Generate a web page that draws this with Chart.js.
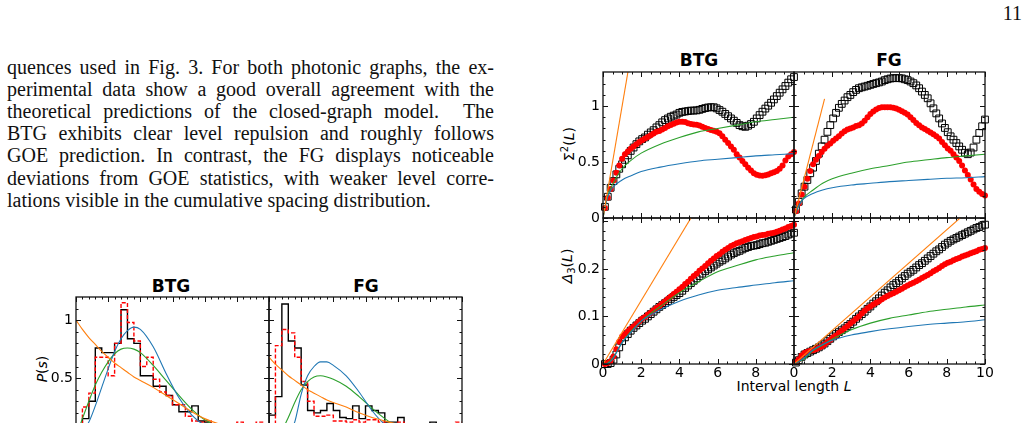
<!DOCTYPE html>
<html>
<head>
<meta charset="utf-8">
<script src="https://cdn.jsdelivr.net/npm/chart.js@4.4.1/dist/chart.umd.min.js"></script>
<style>
  html, body { margin: 0; padding: 0; background: #fff; width: 1027px; height: 423px; overflow: hidden; position: relative; }
  canvas { position: absolute; }
  .para { position: absolute; left: 7px; top: 55.5px; width: 487px; font-family: "Liberation Serif", serif; font-size: 20px; line-height: 22.2px; color: #111; }
  .para div { text-align: justify; text-align-last: justify; }
  .para div.last { text-align-last: left; }
  .pageno { position: absolute; right: 5px; top: 2px; font-family: "Liberation Serif", serif; font-size: 20px; color: #111; }
  .lbl { position: absolute; font-family: "DejaVu Sans", sans-serif; color: #000; white-space: nowrap; transform: translate(-50%, -50%); }
  .ttl { font-weight: bold; font-size: 17px; }
  .ax { font-size: 14px; }
  .rot { transform: translate(-50%, -50%) rotate(-90deg); }
</style>
</head>
<body>

<div class="pageno">11</div>
<div class="para">
  <div>quences used in Fig. 3. For both photonic graphs, the ex-</div>
  <div>perimental data show a good overall agreement with the</div>
  <div>theoretical predictions of the closed-graph model. &nbsp;The</div>
  <div>BTG exhibits clear level repulsion and roughly follows</div>
  <div>GOE prediction. In contrast, the FG displays noticeable</div>
  <div>deviations from GOE statistics, with weaker level corre-</div>
  <div class="last">lations visible in the cumulative spacing distribution.</div>
</div>

<div class="lbl ttl" style="left:171px;top:286px">BTG</div>
<div class="lbl ttl" style="left:366px;top:286px">FG</div>
<div class="lbl ax rot" style="left:42px;top:369px"><i>P</i>(<i>s</i>)</div>

<div class="lbl ttl" style="left:699px;top:60px">BTG</div>
<div class="lbl ttl" style="left:889px;top:60px">FG</div>
<div class="lbl ax rot" style="left:568px;top:144px">Σ<sup style="font-size:10px">2</sup>(<i>L</i>)</div>
<div class="lbl ax rot" style="left:568px;top:266px"><i>Δ</i><sub style="font-size:10px">3</sub>(<i>L</i>)</div>
<div class="lbl ax" style="left:794px;top:386px">Interval length <i>L</i></div>

<script>
// ---- interval lengths of the measured curves ----
const L = [0.1,0.25,0.4,0.55,0.7,0.85,1,1.15,1.3,1.45,1.6,1.75,1.9,2.05,2.2,2.35,2.5,2.65,2.8,2.95,3.1,3.25,3.4,3.55,3.7,3.85,4,4.15,4.3,4.45,4.6,4.75,4.9,5.05,5.2,5.35,5.5,5.65,5.8,5.95,6.1,6.25,6.4,6.55,6.7,6.85,7,7.15,7.3,7.45,7.6,7.75,7.9,8.05,8.2,8.35,8.5,8.65,8.8,8.95,9.1,9.25,9.4,9.55,9.7,9.85,10];

// number variance, BTG
const btgSigmaSquares = [0.10,0.19,0.27,0.33,0.39,0.44,0.48,0.52,0.56,0.60,0.63,0.66,0.685,0.705,0.72,0.745,0.765,0.785,0.81,0.83,0.855,0.875,0.89,0.905,0.915,0.925,0.94,0.948,0.952,0.956,0.96,0.96,0.962,0.967,0.975,0.982,0.988,0.99,0.99,0.98,0.965,0.95,0.93,0.91,0.89,0.87,0.85,0.83,0.82,0.815,0.825,0.84,0.86,0.89,0.92,0.95,0.978,1.004,1.03,1.06,1.09,1.12,1.15,1.18,1.21,1.24,1.26];
const btgSigmaDots = [0.09,0.18,0.26,0.335,0.405,0.47,0.53,0.57,0.595,0.62,0.64,0.66,0.68,0.695,0.71,0.725,0.74,0.755,0.77,0.778,0.79,0.805,0.82,0.832,0.843,0.853,0.86,0.86,0.857,0.848,0.84,0.836,0.833,0.827,0.815,0.804,0.795,0.787,0.78,0.772,0.757,0.73,0.70,0.67,0.64,0.61,0.57,0.54,0.51,0.48,0.45,0.424,0.40,0.387,0.38,0.378,0.382,0.388,0.40,0.41,0.42,0.44,0.47,0.515,0.55,0.57,0.59];
// number variance, FG
const fgSigmaSquares = [0.075,0.145,0.22,0.28,0.34,0.40,0.45,0.51,0.575,0.64,0.70,0.77,0.83,0.89,0.94,0.985,1.02,1.05,1.08,1.10,1.125,1.145,1.16,1.168,1.175,1.182,1.19,1.198,1.205,1.212,1.22,1.232,1.24,1.247,1.25,1.25,1.25,1.248,1.24,1.232,1.22,1.205,1.185,1.16,1.13,1.10,1.07,1.025,0.98,0.935,0.89,0.845,0.805,0.767,0.73,0.70,0.67,0.64,0.61,0.583,0.57,0.585,0.63,0.70,0.76,0.82,0.88];
const fgSigmaDots = [0.06,0.13,0.21,0.28,0.35,0.42,0.48,0.52,0.555,0.59,0.62,0.645,0.665,0.69,0.71,0.73,0.755,0.775,0.79,0.80,0.81,0.823,0.83,0.845,0.87,0.90,0.93,0.953,0.97,0.983,0.99,0.99,0.99,0.99,0.985,0.978,0.968,0.955,0.94,0.925,0.90,0.875,0.85,0.828,0.81,0.795,0.78,0.765,0.748,0.73,0.71,0.68,0.65,0.622,0.60,0.57,0.54,0.51,0.47,0.425,0.385,0.345,0.30,0.26,0.235,0.215,0.20];
// spectral rigidity, BTG
const btgDeltaSquares = [0,0,0.002,0.009,0.02,0.035,0.048,0.056,0.063,0.07,0.076,0.081,0.086,0.091,0.095,0.1,0.105,0.11,0.115,0.12,0.124,0.128,0.132,0.137,0.141,0.145,0.149,0.154,0.16,0.165,0.17,0.175,0.18,0.185,0.19,0.195,0.199,0.203,0.207,0.211,0.215,0.218,0.222,0.226,0.23,0.233,0.236,0.238,0.241,0.244,0.246,0.248,0.249,0.25,0.252,0.254,0.255,0.257,0.259,0.261,0.263,0.265,0.267,0.269,0.272,0.274,0.276];
const btgDeltaDots = [0,0.002,0.006,0.016,0.031,0.047,0.058,0.063,0.069,0.074,0.079,0.084,0.09,0.095,0.099,0.104,0.108,0.113,0.118,0.122,0.127,0.132,0.137,0.142,0.147,0.152,0.157,0.162,0.168,0.173,0.179,0.185,0.19,0.196,0.201,0.206,0.212,0.217,0.222,0.227,0.231,0.236,0.24,0.244,0.248,0.251,0.254,0.256,0.258,0.261,0.263,0.265,0.267,0.268,0.27,0.271,0.272,0.274,0.275,0.276,0.278,0.28,0.283,0.285,0.288,0.29,0.293];
// spectral rigidity, FG
const fgDeltaSquares = [0.003,0.008,0.015,0.02,0.023,0.026,0.029,0.032,0.035,0.039,0.043,0.048,0.053,0.058,0.063,0.067,0.071,0.075,0.08,0.084,0.089,0.095,0.1,0.105,0.11,0.116,0.121,0.127,0.132,0.138,0.144,0.15,0.155,0.161,0.166,0.17,0.175,0.18,0.185,0.19,0.194,0.198,0.203,0.208,0.212,0.217,0.222,0.227,0.232,0.237,0.241,0.246,0.251,0.255,0.259,0.262,0.265,0.268,0.271,0.274,0.277,0.28,0.283,0.286,0.288,0.291,0.293];
const fgDeltaDots = [0.004,0.01,0.018,0.023,0.026,0.028,0.029,0.031,0.034,0.037,0.041,0.046,0.051,0.056,0.06,0.065,0.07,0.075,0.08,0.085,0.09,0.095,0.1,0.106,0.112,0.117,0.121,0.125,0.129,0.132,0.136,0.14,0.143,0.146,0.149,0.152,0.155,0.158,0.162,0.165,0.168,0.171,0.174,0.177,0.181,0.184,0.187,0.191,0.195,0.198,0.202,0.206,0.21,0.213,0.215,0.218,0.221,0.223,0.226,0.228,0.23,0.233,0.235,0.237,0.24,0.242,0.244];

// ---- reference curves ----
const Lth = [0,0.1,0.25,0.5,1,1.5,2,3,4,5,6,7,8,9,10];
const btgSigmaGOE = [0,0.09,0.2,0.3,0.44,0.52,0.58,0.66,0.72,0.77,0.80,0.83,0.86,0.88,0.90];
const btgSigmaGUE = [0,0.09,0.19,0.27,0.34,0.38,0.415,0.455,0.485,0.51,0.525,0.54,0.555,0.565,0.575];
const fgSigmaGOE = [0,0.05,0.11,0.18,0.25,0.31,0.35,0.40,0.44,0.47,0.50,0.52,0.54,0.555,0.57];
const fgSigmaGUE = [0,0.05,0.11,0.17,0.22,0.25,0.27,0.295,0.31,0.325,0.335,0.345,0.355,0.36,0.37];
const btgDeltaGOE = [0,0,0.002,0.012,0.045,0.07,0.09,0.121,0.15,0.173,0.194,0.207,0.219,0.227,0.234];
const btgDeltaGUE = [0,0,0.001,0.01,0.045,0.068,0.09,0.114,0.132,0.145,0.155,0.161,0.166,0.171,0.175];
const fgDeltaGOE = [0,0.002,0.005,0.01,0.028,0.04,0.052,0.072,0.086,0.096,0.103,0.11,0.115,0.12,0.124];
const fgDeltaGUE = [0,0.002,0.005,0.012,0.03,0.041,0.05,0.061,0.068,0.074,0.079,0.083,0.086,0.089,0.093];
// Poisson straight lines (end points)
const Lpois = [0,1.6];
const btgSigmaPois = [0,1.6];
const fgSigmaPois = [0,1.064];
const LpoisD = [0,10];
const btgDeltaPois = [0,0.667];
const fgDeltaPois = [0,0.353];

// ---- spacing histograms ----
const sEdges = [0,0.1,0.2,0.3,0.4,0.5,0.6,0.7,0.8,0.9,1,1.1,1.2,1.3,1.4,1.5,1.6,1.7,1.8,1.9,2,2.1,2.2,2.3,2.4,2.5,2.6,2.7,2.8,2.9,3];
const btgHistSolid = [0.05,0.15,0.30,0.76,0.72,0.72,0.80,1.09,0.84,0.80,0.52,0.52,0.43,0.43,0.35,0.27,0.21,0.21,0.26,0.13,0.12,0.08,0.05,0.03,0.10,0.02,0.02,0.01,0.01,0.0];
const btgHistDashed = [0.0,0.25,0.37,0.68,0.68,0.52,0.80,1.15,0.98,0.82,0.60,0.68,0.49,0.38,0.35,0.27,0.27,0.17,0.13,0.12,0.13,0.06,0.04,0.03,0.02,0.12,0.03,0.02,0.12,0.02];
const fgHistSolid = [0.18,0.34,1.14,0.82,0.76,0.44,0.22,0.20,0.22,0.28,0.22,0.16,0.15,0.26,0.15,0.26,0.22,0.20,0.12,0.12,0.16,0.04,0.02,0.02,0.02,0.12,0.02,0.01,0.01,0.0];
const fgHistDashed = [0.05,0.78,0.92,0.89,0.68,0.47,0.30,0.17,0.17,0.18,0.13,0.13,0.12,0.14,0.12,0.14,0.14,0.12,0.08,0.08,0.12,0.03,0.02,0.02,0.02,0.02,0.02,0.01,0.01,0.12];
const sTh = [0,0.1,0.2,0.3,0.4,0.5,0.6,0.7,0.8,0.9,1,1.2,1.4,1.6,1.8,2,2.25,2.5,2.75,3];
const btgPGUE = [0,0.03,0.12,0.26,0.42,0.58,0.73,0.84,0.91,0.94,0.92,0.77,0.54,0.33,0.18,0.09,0.03,0.01,0,0];
const btgPGOE = [0,0.15,0.30,0.44,0.55,0.64,0.71,0.75,0.76,0.75,0.72,0.61,0.48,0.35,0.23,0.14,0.07,0.03,0.01,0];
const btgPPois = [1,0.92,0.85,0.79,0.73,0.68,0.63,0.59,0.55,0.51,0.48,0.42,0.35,0.28,0.21,0.15,0.10,0.07,0.05,0.03];
const fgPGUE = [0,0,0,0.02,0.12,0.36,0.52,0.60,0.64,0.64,0.61,0.52,0.38,0.22,0.10,0.04,0.01,0,0,0];
const fgPGOE = [0,0,0.05,0.16,0.29,0.40,0.47,0.51,0.52,0.51,0.49,0.43,0.34,0.24,0.15,0.08,0.03,0.01,0,0];
const fgPPois = [0.68,0.62,0.57,0.52,0.48,0.44,0.40,0.37,0.34,0.31,0.29,0.25,0.20,0.16,0.13,0.10,0.07,0.05,0.04,0.03];

// ---- axis ticks ----
const LMajor = [0,2,4,6,8,10];
const LMinor = [0.5,1,1.5,2.5,3,3.5,4.5,5,5.5,6.5,7,7.5,8.5,9,9.5];
const sigmaMajor = [0,0.5,1];
const sigmaMinor = [0.1,0.2,0.3,0.4,0.6,0.7,0.8,0.9,1.1,1.2];
const deltaMajor = [0,0.1,0.2,0.3];
const deltaMinor = [0.02,0.04,0.06,0.08,0.12,0.14,0.16,0.18,0.22,0.24,0.26,0.28];
const sMajor = [0,0.5,1,1.5,2,2.5,3];
const sMinor = [0.1,0.2,0.3,0.4,0.6,0.7,0.8,0.9,1.1,1.2,1.3,1.4,1.6,1.7,1.8,1.9,2.1,2.2,2.3,2.4,2.6,2.7,2.8,2.9];
const pMajor = [0,0.5,1];
const pMinor = [0.1,0.2,0.3,0.4,0.6,0.7,0.8,0.9,1.1];

const BLUE = '#1f77b4', ORANGE = '#ff7f0e', GREEN = '#2ca02c', RED = '#ff0000';

const pts = (xs, ys) => xs.map((x, i) => ({ x: x, y: ys[i] }));

function histPts(edges, h) {
  let out = [{ x: edges[0], y: 0 }];
  h.forEach((v, i) => out.push({ x: edges[i], y: v }));
  out.push({ x: edges[edges.length - 1], y: h[h.length - 1] });
  return out;
}

// frame on all four sides with inward major/minor ticks
const frameTicks = {
  id: 'frameTicks',
  afterDatasetsDraw(chart, args, o) {
    const ctx = chart.ctx, a = chart.chartArea;
    const xs = chart.scales.x, ys = chart.scales.y;
    ctx.save();
    ctx.strokeStyle = '#111';
    ctx.lineWidth = 1;
    ctx.beginPath();
    const vert = (vals, len) => vals.forEach(v => {
      const px = Math.round(xs.getPixelForValue(v)) + 0.5;
      ctx.moveTo(px, a.bottom); ctx.lineTo(px, a.bottom - len);
      ctx.moveTo(px, a.top); ctx.lineTo(px, a.top + len);
    });
    const horz = (vals, len) => vals.forEach(v => {
      const py = Math.round(ys.getPixelForValue(v)) + 0.5;
      ctx.moveTo(a.left, py); ctx.lineTo(a.left + len, py);
      ctx.moveTo(a.right, py); ctx.lineTo(a.right - len, py);
    });
    vert(o.xMajor || [], 5);
    vert(o.xMinor || [], 2.5);
    horz(o.yMajor || [], 5);
    horz(o.yMinor || [], 2.5);
    ctx.stroke();
    ctx.lineWidth = 1.3;
    ctx.strokeRect(a.left, a.top, a.right - a.left, a.bottom - a.top);
    ctx.restore();
  }
};

function makePanel(box, datasets, opt) {
  const padL = 48, padR = 16, padT = 16, padB = 24;
  const cv = document.createElement('canvas');
  cv.width = box.w + padL + padR;
  cv.height = box.h + padT + padB;
  cv.style.left = (box.x - padL) + 'px';
  cv.style.top = (box.y - padT) + 'px';
  document.body.appendChild(cv);
  const tickFont = { family: 'DejaVu Sans', size: 14 };
  return new Chart(cv, {
    type: 'scatter',
    data: { datasets: datasets },
    options: {
      responsive: false,
      animation: false,
      devicePixelRatio: 1,
      layout: { padding: { left: 0, right: padR, top: padT, bottom: 0 } },
      plugins: {
        legend: { display: false },
        tooltip: { enabled: false },
        frameTicks: { xMajor: opt.xMajor, xMinor: opt.xMinor, yMajor: opt.yMajor, yMinor: opt.yMinor }
      },
      scales: {
        x: {
          type: 'linear', min: opt.xMin, max: opt.xMax,
          grid: { display: false, drawTicks: false }, border: { display: false },
          ticks: { display: !!opt.xLabels, font: tickFont, color: '#000', padding: 1, maxRotation: 0, autoSkip: false, callback: v => String(v) },
          afterBuildTicks: s => { s.ticks = (opt.xLabels || []).map(v => ({ value: v })); },
          afterFit: s => { s.height = padB; }
        },
        y: {
          type: 'linear', min: opt.yMin, max: opt.yMax,
          grid: { display: false, drawTicks: false }, border: { display: false },
          ticks: { display: !!opt.yLabels, font: tickFont, color: '#000', padding: 3, autoSkip: false, callback: v => String(v) },
          afterBuildTicks: s => { s.ticks = (opt.yLabels || []).map(v => ({ value: v })); },
          afterFit: s => { s.width = padL; }
        }
      }
    },
    plugins: [frameTicks]
  });
}

function markerSets(sq, dots, xs) {
  return [
    { data: pts(xs, dots), pointStyle: 'circle', pointRadius: 3, backgroundColor: RED, borderColor: RED, pointBorderWidth: 0, order: 5, clip: 4 },
    { data: pts(xs, sq), pointStyle: 'rect', pointRadius: 4.8, backgroundColor: 'rgba(0,0,0,0)', borderColor: '#000', pointBorderWidth: 1, order: 6, clip: 4 }
  ];
}
function curve(xs, ys, color, order) {
  return { data: pts(xs, ys), showLine: true, pointRadius: 0, borderColor: color, borderWidth: 1.1, cubicInterpolationMode: 'monotone', order: order };
}
function stepSet(edges, h, color, dash, order) {
  return { data: histPts(edges, h), showLine: true, stepped: true, pointRadius: 0, borderColor: color, borderWidth: 1.4, borderDash: dash, order: order };
}

const sigmaOpt = { xMin: 0, xMax: 10, yMin: 0, yMax: 1.305, xMajor: LMajor, xMinor: LMinor, yMajor: sigmaMajor, yMinor: sigmaMinor };
const deltaOpt = { xMin: 0, xMax: 10, yMin: 0, yMax: 0.307, xMajor: LMajor, xMinor: LMinor, yMajor: deltaMajor, yMinor: deltaMinor };

// right figure: number variance (top) and spectral rigidity (bottom)
makePanel({ x: 603, y: 72, w: 191, h: 146 }, [
  curve(Lpois, btgSigmaPois, ORANGE, 0), curve(Lth, btgSigmaGUE, BLUE, 1), curve(Lth, btgSigmaGOE, GREEN, 2),
  ...markerSets(btgSigmaSquares, btgSigmaDots, L)
], Object.assign({}, sigmaOpt, { yLabels: [0, 0.5, 1] }));

makePanel({ x: 794, y: 72, w: 191, h: 146 }, [
  curve(Lpois, fgSigmaPois, ORANGE, 0), curve(Lth, fgSigmaGUE, BLUE, 1), curve(Lth, fgSigmaGOE, GREEN, 2),
  ...markerSets(fgSigmaSquares, fgSigmaDots, L)
], sigmaOpt);

makePanel({ x: 603, y: 218, w: 191, h: 146 }, [
  curve(LpoisD, btgDeltaPois, ORANGE, 0), curve(Lth, btgDeltaGUE, BLUE, 1), curve(Lth, btgDeltaGOE, GREEN, 2),
  ...markerSets(btgDeltaSquares, btgDeltaDots, L)
], Object.assign({}, deltaOpt, { yLabels: [0, 0.1, 0.2], xLabels: [0, 2, 4, 6, 8] }));

makePanel({ x: 794, y: 218, w: 191, h: 146 }, [
  curve(LpoisD, fgDeltaPois, ORANGE, 0), curve(Lth, fgDeltaGUE, BLUE, 1), curve(Lth, fgDeltaGOE, GREEN, 2),
  ...markerSets(fgDeltaSquares, fgDeltaDots, L)
], Object.assign({}, deltaOpt, { xLabels: [0, 2, 4, 6, 8, 10] }));

// left figure: spacing distributions
const histOpt = { xMin: 0, xMax: 3, yMin: 0, yMax: 1.2, xMajor: sMajor, xMinor: sMinor, yMajor: pMajor, yMinor: pMinor };

makePanel({ x: 76, y: 297, w: 193, h: 139 }, [
  curve(sTh, btgPPois, ORANGE, 0), curve(sTh, btgPGUE, BLUE, 1), curve(sTh, btgPGOE, GREEN, 2),
  stepSet(sEdges, btgHistDashed, RED, [4, 2], 3), stepSet(sEdges, btgHistSolid, '#000', [], 4)
], Object.assign({}, histOpt, { yLabels: [0, 0.5, 1] }));

makePanel({ x: 269, y: 297, w: 193, h: 139 }, [
  curve(sTh, fgPPois, ORANGE, 0), curve(sTh, fgPGUE, BLUE, 1), curve(sTh, fgPGOE, GREEN, 2),
  stepSet(sEdges, fgHistDashed, RED, [4, 2], 3), stepSet(sEdges, fgHistSolid, '#000', [], 4)
], histOpt);
</script>
</body>
</html>
